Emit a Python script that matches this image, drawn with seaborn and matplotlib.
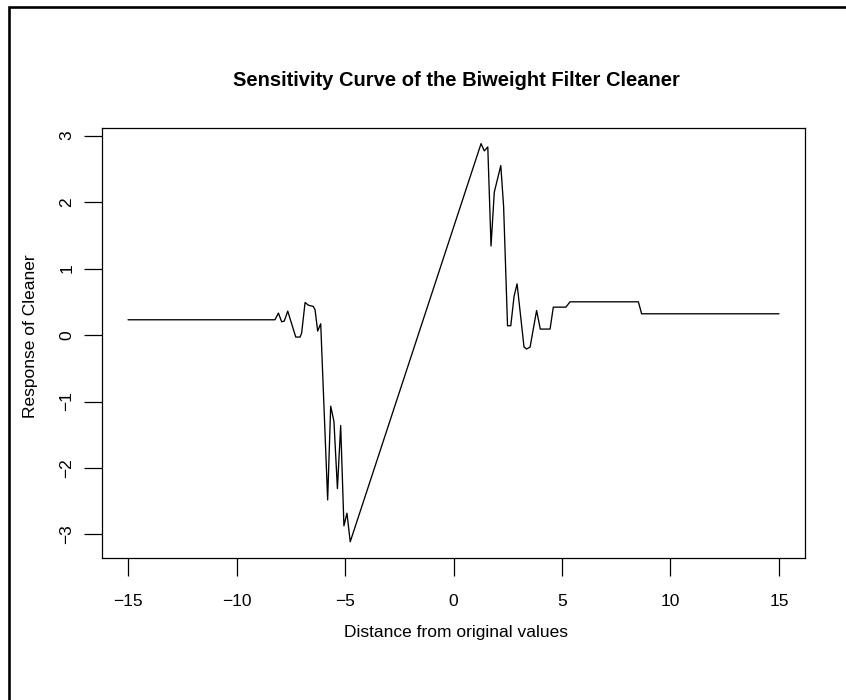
import matplotlib
matplotlib.use("Agg")
import matplotlib.pyplot as plt
from matplotlib.patches import Rectangle
import seaborn as sns
import pandas as pd

# Sensitivity curve: perturbation distance vs. cleaner response
distance = [
    -15.00, -8.23, -8.07, -7.92, -7.80, -7.64, -7.27, -7.07, -7.00, -6.84,
    -6.69, -6.46, -6.38, -6.26, -6.12, -5.80, -5.66, -5.51, -5.35, -5.20,
    -5.05, -4.91, -4.76, 1.27, 1.42, 1.58, 1.73, 1.88, 2.18, 2.31,
    2.49, 2.64, 2.79, 2.93, 3.25, 3.37, 3.53, 3.83, 4.00, 4.45,
    4.60, 5.18, 5.37, 8.52, 8.67, 15.00,
]
response = [
    0.23, 0.23, 0.33, 0.20, 0.21, 0.36, -0.03, -0.03, 0.03, 0.49,
    0.45, 0.43, 0.38, 0.06, 0.17, -2.48, -1.07, -1.30, -2.31, -1.36,
    -2.87, -2.68, -3.11, 2.88, 2.77, 2.83, 1.34, 2.15, 2.55, 1.93,
    0.14, 0.14, 0.58, 0.77, -0.18, -0.21, -0.18, 0.37, 0.09, 0.09,
    0.42, 0.42, 0.50, 0.50, 0.32, 0.32,
]
x_ticks = [-15, -10, -5, 0, 5, 10, 15]
y_ticks = [-3, -2, -1, 0, 1, 2, 3]

title = "Sensitivity Curve of the Biweight Filter Cleaner"
x_label = "Distance from original values"
y_label = "Response of Cleaner"

df = pd.DataFrame({"distance": distance, "response": response})

sns.set_style("white")
plt.rcParams["font.family"] = ["Liberation Sans", "DejaVu Sans"]
plt.rcParams["text.color"] = "black"

fig = plt.figure(figsize=(8.46, 7.0), dpi=100)
ax = fig.add_axes([102 / 846, 1 - 557.7 / 700, (805 - 102) / 846, (557.7 - 127.7) / 700])

sns.lineplot(data=df, x="distance", y="response", sort=False, estimator=None,
             color="black", linewidth=0.95, ax=ax)

# R-style ranges: data range extended by 4% on each side
xmin, xmax = -15.0, 15.0
ymin, ymax = min(response), max(response)
xr, yr = xmax - xmin, ymax - ymin
ax.set_xlim(xmin - 0.04 * xr, xmax + 0.04 * xr)
ax.set_ylim(ymin - 0.04 * yr, ymax + 0.04 * yr)

ax.set_xticks(x_ticks)
ax.set_yticks(y_ticks)
ax.set_xticklabels([f"{t}".replace("-", "\u2212") for t in x_ticks])
ax.set_yticklabels([f"{t}".replace("-", "\u2212") for t in y_ticks],
                   rotation=90, va="center")
ax.tick_params(axis="both", which="major", bottom=True, left=True,
               top=False, right=False, direction="out", length=13, width=0.9,
               color="black", labelsize=12.5, labelcolor="black")
ax.tick_params(axis="x", pad=13)
ax.tick_params(axis="y", pad=7)

for s in ax.spines.values():
    s.set_visible(True)
    s.set_color("black")
    s.set_linewidth(0.9)

ax.set_xlabel("")
ax.set_ylabel("")
fig.text(456 / 846, 1 - 80 / 700, title, ha="center", va="center",
         fontsize=14.5, fontweight="bold", color="black")
fig.text(456 / 846, 1 - 632 / 700, x_label, ha="center", va="center",
         fontsize=12.5, color="black")
fig.text(31 / 846, 1 - 336 / 700, y_label, ha="center", va="center",
         fontsize=12.5, rotation=90, color="black")

# Device frame
fig.add_artist(Rectangle((9 / 846, -0.1), 2.0, 1.1 - 7 / 700,
                         transform=fig.transFigure, fill=False,
                         edgecolor="black", linewidth=1.9, clip_on=False))

fig.savefig("out.png", dpi=100, facecolor="white")
